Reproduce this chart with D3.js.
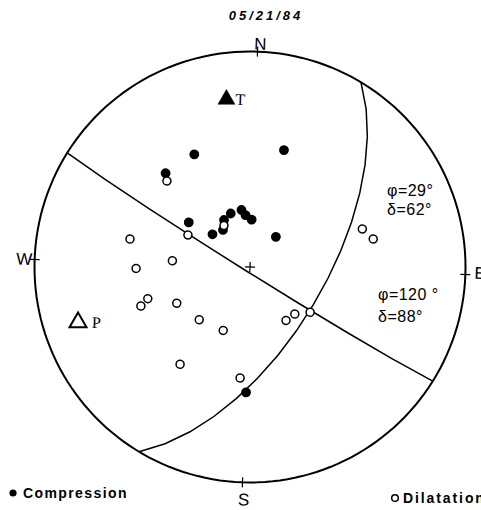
<!DOCTYPE html>
<html>
<head>
<meta charset="utf-8">
<script src="https://cdn.jsdelivr.net/npm/d3@7"></script>
<style>
  body { margin: 0; background: #fff; }
  text { fill: #000; }
</style>
</head>
<body>
<svg id="chart" width="481" height="510"></svg>
<script>
// nodal planes: [strike, dip]
const planes = [[29, 62], [120, 88]];
const planeLabels = [['\u03c6=29\u00b0', '\u03b4=62\u00b0'], ['\u03c6=120 \u00b0', '\u03b4=88\u00b0']];

// first motions, lower hemisphere: [trend, plunge]
const compressions = [
  [331.7, 41.3], [14.2, 42.9], [316.0, 41.1], [304.1, 61.2], [309.1, 71.2],
  [321.9, 72.7], [329.1, 69.7], [338.2, 68.5], [349.5, 68.2], [353.1, 70.3],
  [0.0, 72.1], [38.6, 75.0], [179.8, 41.4]
];
const dilatations = [
  [314.0, 43.8], [295.3, 63.5], [325.9, 71.5], [281.1, 42.3], [272.6, 60.4],
  [267.3, 46.1], [250.8, 48.9], [248.3, 45.3], [241.7, 58.9], [221.9, 62.2],
  [200.9, 63.9], [69.3, 44.2], [75.2, 41.0], [144.0, 65.6], [134.4, 65.4],
  [125.0, 61.4], [213.7, 43.7], [183.1, 47.1]
];

// stress axes
const pAxis = [250.2, 17.3];
const tAxis = [350.0, 22.5];

const cardinals = [['N', 0], ['E', 90], ['S', 180], ['W', 270]];
const title = '05/21/84';

const cx = 250, cy = 267, R = 215.5;
const tilt = 2; // the scan is turned a little

const svg = d3.select('#chart');

// Schmidt net (equal area), looking down
const proj = d3.geoAzimuthalEqualArea()
  .rotate([0, -90])
  .scale(R / Math.SQRT2)
  .translate([cx, cy]);
const path = d3.geoPath(proj);
const geo = (trend, plunge) => [180 - trend, plunge];

const net = svg.append('g')
  .attr('transform', `rotate(${tilt}, ${cx}, ${cy})`);

// primitive circle
net.append('path')
  .datum(d3.geoCircle().center([0, 90]).radius(90)())
  .attr('d', path)
  .attr('fill', 'none')
  .attr('stroke', '#000')
  .attr('stroke-width', 2);

// nodal planes as great circles
net.selectAll('.plane')
  .data(planes)
  .enter()
  .append('path')
  .attr('class', 'plane')
  .attr('d', d => path({
    type: 'LineString',
    coordinates: [geo(d[0], 0), geo(d[0] + 90, d[1]), geo(d[0] + 180, 0)]
  }))
  .attr('fill', 'none')
  .attr('stroke', '#000')
  .attr('stroke-width', 1.5);

// cardinal ticks and labels
const labelOffset = { N: [2.5, -2], E: [9, 4], S: [1.8, 23], W: [-2.5, 5.6] };
cardinals.forEach(([name, t]) => {
  const p = proj(geo(t, 0));
  const ux = (p[0] - cx) / R, uy = (p[1] - cy) / R;
  net.append('line')
    .attr('x1', cx + ux * (R - 5)).attr('y1', cy + uy * (R - 5))
    .attr('x2', cx + ux * (R + 5)).attr('y2', cy + uy * (R + 5))
    .attr('stroke', '#000')
    .attr('stroke-width', 1.2);
  net.append('text')
    .attr('x', p[0] + labelOffset[name][0])
    .attr('y', p[1] + labelOffset[name][1])
    .attr('text-anchor', name === 'W' ? 'end' : name === 'E' ? 'start' : 'middle')
    .style('font-family', 'Liberation Sans, Arial, sans-serif')
    .style('font-size', '17px')
    .text(name);
});

// centre cross
const c0 = proj(geo(0, 90));
net.append('path')
  .attr('d', `M${c0[0] - 5},${c0[1]}H${c0[0] + 5}M${c0[0]},${c0[1] - 5}V${c0[1] + 5}`)
  .attr('stroke', '#000')
  .attr('stroke-width', 1.2);

// compressions
net.selectAll('.comp')
  .data(compressions)
  .enter()
  .append('circle')
  .attr('class', 'comp')
  .attr('cx', d => proj(geo(d[0], d[1]))[0])
  .attr('cy', d => proj(geo(d[0], d[1]))[1])
  .attr('r', 4.9)
  .attr('fill', '#000');

// dilatations
net.selectAll('.dil')
  .data(dilatations)
  .enter()
  .append('circle')
  .attr('class', 'dil')
  .attr('cx', d => proj(geo(d[0], d[1]))[0])
  .attr('cy', d => proj(geo(d[0], d[1]))[1])
  .attr('r', 4)
  .attr('fill', '#fff')
  .attr('stroke', '#000')
  .attr('stroke-width', 1.5);

// P and T axes
const tri = d3.symbol().type(d3.symbolTriangle).size(125);
const axes = [
  { name: 'T', pos: tAxis, fill: '#000', dx: 9, dy: 5 },
  { name: 'P', pos: pAxis, fill: 'none', dx: 14, dy: 5 }
];
axes.forEach(a => {
  const p = proj(geo(a.pos[0], a.pos[1]));
  net.append('path')
    .attr('d', tri())
    .attr('transform', `translate(${p[0]}, ${p[1]}) rotate(${-tilt})`)
    .attr('fill', a.fill)
    .attr('stroke', '#000')
    .attr('stroke-width', a.fill === 'none' ? 2 : 0.5);
  net.append('text')
    .attr('x', p[0] + a.dx)
    .attr('y', p[1] + a.dy)
    .style('font-family', 'Liberation Serif, Times New Roman, serif')
    .style('font-size', '16px')
    .text(a.name);
});

// plane annotations
const annoPos = [[387, 196, 215], [378, 300, 322]];
planeLabels.forEach((lines, i) => {
  lines.forEach((s, j) => {
    svg.append('text')
      .attr('x', annoPos[i][0])
      .attr('y', annoPos[i][j + 1])
      .style('font-family', 'Liberation Sans, Arial, sans-serif')
      .style('font-size', '16px')
      .style('letter-spacing', '0.5px')
      .text(s);
  });
});

// title
svg.append('text')
  .attr('x', 266)
  .attr('y', 20)
  .attr('text-anchor', 'middle')
  .style('font-family', 'Liberation Sans, Arial, sans-serif')
  .style('font-size', '13px')
  .style('font-weight', 'bold')
  .style('font-style', 'italic')
  .style('letter-spacing', '3px')
  .text(title);

// legend
svg.append('circle').attr('cx', 13).attr('cy', 493).attr('r', 3.6).attr('fill', '#000');
svg.append('text')
  .attr('x', 23).attr('y', 498)
  .style('font-family', 'Liberation Sans, Arial, sans-serif')
  .style('font-size', '14px')
  .style('font-weight', 'bold')
  .style('letter-spacing', '1.4px')
  .text('Compression');

svg.append('circle').attr('cx', 395).attr('cy', 498).attr('r', 3.3)
  .attr('fill', '#fff').attr('stroke', '#000').attr('stroke-width', 1.5);
svg.append('text')
  .attr('x', 403).attr('y', 503)
  .style('font-family', 'Liberation Sans, Arial, sans-serif')
  .style('font-size', '14px')
  .style('font-weight', 'bold')
  .style('letter-spacing', '1.9px')
  .text('Dilatation');
</script>
</body>
</html>
